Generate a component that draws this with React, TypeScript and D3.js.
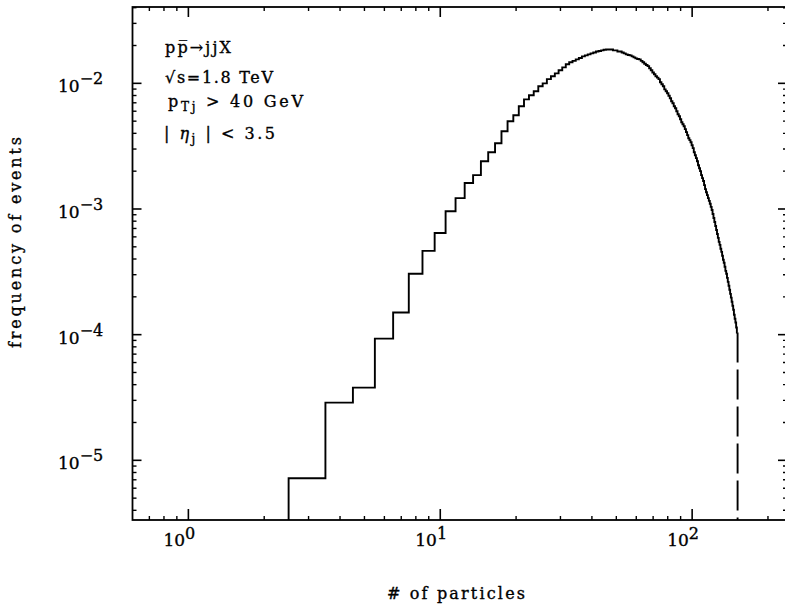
import React from "react";
import * as d3 from "d3";

// number of particles (bin centres, integer multiplicities)
const multiplicity: number[] = d3.range(3, 152);
// frequency of events for n = 3 ... 151
const frequency: number[] = [
  7.2e-6, 2.88e-5, 3.79e-5, 9.3e-5, 1.5e-4, 3.05e-4, 4.64e-4, 6.45e-4, 9.6e-4, 1.22e-3,
  1.61e-3, 1.86e-3, 2.4e-3, 2.83e-3, 3.34e-3, 4.16e-3, 4.99e-3, 5.57e-3, 6.57e-3, 7.46e-3,
  8.03e-3, 8.65e-3, 9.47e-3, 1.0e-2, 1.08e-2, 1.14e-2, 1.2e-2, 1.27e-2, 1.34e-2, 1.42e-2,
  1.47e-2, 1.51e-2, 1.55e-2, 1.59e-2, 1.64e-2, 1.67e-2, 1.7e-2, 1.73e-2, 1.76e-2, 1.79e-2,
  1.81e-2, 1.83e-2, 1.85e-2, 1.86e-2, 1.86e-2, 1.86e-2, 1.83e-2, 1.83e-2, 1.79e-2, 1.79e-2,
  1.76e-2, 1.73e-2, 1.7e-2, 1.68e-2, 1.67e-2, 1.64e-2, 1.61e-2, 1.58e-2, 1.56e-2, 1.55e-2,
  1.51e-2, 1.47e-2, 1.43e-2, 1.4e-2, 1.37e-2, 1.32e-2, 1.27e-2, 1.22e-2, 1.18e-2, 1.14e-2,
  1.11e-2, 1.08e-2, 1.02e-2, 9.83e-3, 9.47e-3, 8.96e-3, 8.65e-3, 8.34e-3, 7.96e-3, 7.6e-3,
  7.2e-3, 6.94e-3, 6.57e-3, 6.33e-3, 6.0e-3, 5.68e-3, 5.47e-3, 5.18e-3, 4.9e-3, 4.73e-3,
  4.56e-3, 4.32e-3, 4.09e-3, 3.87e-3, 3.66e-3, 3.53e-3, 3.4e-3, 3.22e-3, 3.05e-3, 2.83e-3,
  2.68e-3, 2.54e-3, 2.4e-3, 2.23e-3, 2.11e-3, 2.0e-3, 1.86e-3, 1.76e-3, 1.67e-3, 1.55e-3,
  1.44e-3, 1.36e-3, 1.29e-3, 1.22e-3, 1.16e-3, 1.1e-3, 1.04e-3, 9.82e-4, 9.12e-4, 8.49e-4,
  7.89e-4, 7.33e-4, 6.81e-4, 6.33e-4, 5.89e-4, 5.47e-4, 5.18e-4, 4.82e-4, 4.56e-4, 4.24e-4,
  3.94e-4, 3.73e-4, 3.47e-4, 3.22e-4, 3.05e-4, 2.83e-4, 2.63e-4, 2.45e-4, 2.28e-4, 2.11e-4,
  1.97e-4, 1.83e-4, 1.7e-4, 1.58e-4, 1.44e-4, 1.34e-4, 1.25e-4, 1.14e-4, 1.04e-4,
];

const xDomain: [number, number] = [0.6, 238];
const yDomain: [number, number] = [3.35e-6, 0.0405];
const xMajorTicks: number[] = [1, 10, 100];
const xTickExponents: string[] = ["0", "1", "2"];
const yMajorTicks: number[] = [1e-5, 1e-4, 1e-3, 1e-2];
const yTickExponents: string[] = ["\u22125", "\u22124", "\u22123", "\u22122"];
const xTitle = "# of particles";
const yTitle = "frequency of events";

const W = 785;
const H = 607;
const L = 132.5;
const R = 787;
const T = 7;
const B = 520;
const FONT = "'DejaVu Serif', serif";
const TXT = { fill: "#000", stroke: "#000", strokeWidth: 0.35 };

export default function App() {
  const x = d3.scaleLog().domain(xDomain).range([L, R]);
  const y = d3.scaleLog().domain(yDomain).range([B, T]);

  const xMinor: number[] = [];
  for (let d = -1; d <= 2; d++)
    for (let k = 2; k <= 9; k++) {
      const v = k * Math.pow(10, d);
      if (v > xDomain[0] * 1.001 && v < xDomain[1]) xMinor.push(v);
    }
  const yMinor: number[] = [];
  for (let d = -6; d <= -2; d++)
    for (let k = 2; k <= 9; k++) {
      const v = k * Math.pow(10, d);
      if (v > yDomain[0] && v < yDomain[1]) yMinor.push(v);
    }

  // histogram step path
  let p = `M${x(multiplicity[0] - 0.5)},${B}`;
  multiplicity.forEach((n, i) => {
    p += `V${y(frequency[i])}H${x(n + 0.5)}`;
  });
  const lastN = multiplicity[multiplicity.length - 1];
  const lastX = x(lastN + 0.5);
  const lastY = y(frequency[frequency.length - 1]);

  return (
    <svg
      width={W}
      height={H}
      style={{ position: "absolute", left: 0, top: 0, background: "#fff" }}
      fontFamily={FONT}
    >
      <rect x={0} y={0} width={W} height={H} fill="#fff" />
      {/* frame */}
      <rect x={L} y={T} width={R - L} height={B - T} fill="none" stroke="#000" strokeWidth={1.8} />
      {/* x ticks bottom & top */}
      {xMajorTicks.map((v) => (
        <g key={"xM" + v}>
          <line x1={x(v)} x2={x(v)} y1={B} y2={B - 11} stroke="#000" strokeWidth={1.6} />
          <line x1={x(v)} x2={x(v)} y1={T} y2={T + 10} stroke="#000" strokeWidth={1.6} />
        </g>
      ))}
      {xMinor.map((v) => (
        <g key={"xm" + v}>
          <line x1={x(v)} x2={x(v)} y1={B} y2={B - 4} stroke="#000" strokeWidth={1.4} />
          <line x1={x(v)} x2={x(v)} y1={T} y2={T + 4} stroke="#000" strokeWidth={1.4} />
        </g>
      ))}
      {/* y ticks left & right */}
      {yMajorTicks.map((v) => (
        <g key={"yM" + v}>
          <line x1={L} x2={L + 9} y1={y(v)} y2={y(v)} stroke="#000" strokeWidth={1.6} />
          <line x1={R} x2={R - 9} y1={y(v)} y2={y(v)} stroke="#000" strokeWidth={1.6} />
        </g>
      ))}
      {yMinor.map((v) => (
        <g key={"ym" + v}>
          <line x1={L} x2={L + 4} y1={y(v)} y2={y(v)} stroke="#000" strokeWidth={1.4} />
          <line x1={R} x2={R - 4} y1={y(v)} y2={y(v)} stroke="#000" strokeWidth={1.4} />
        </g>
      ))}
      {/* tick labels */}
      {xMajorTicks.map((v, i) => (
        <text key={"xl" + v} x={x(v) - 25} y={B + 26} fontSize={17} {...TXT}>
          10
          <tspan dy={-7} fontSize={16}>{xTickExponents[i]}</tspan>
        </text>
      ))}
      {yMajorTicks.map((v, i) => (
        <text key={"yl" + v} x={58} y={y(v) + 9} fontSize={17} {...TXT}>
          10
          <tspan dy={-8} fontSize={16}>{yTickExponents[i]}</tspan>
        </text>
      ))}
      {/* axis titles */}
      <text x={387} y={599} fontSize={16} {...TXT} textLength={138} lengthAdjust="spacing">
        {xTitle}
      </text>
      <text
        transform={`translate(21,348) rotate(-90)`}
        x={0}
        y={0}
        fontSize={16}
        {...TXT}
        textLength={211}
        lengthAdjust="spacing"
      >
        {yTitle}
      </text>
      {/* annotation */}
      <g fontSize={16} {...TXT}>
        <text x={165} y={53} textLength={66} lengthAdjust="spacing">
          p{"p\u0305"}{"\u2192"}jjX
        </text>
        <text x={165} y={83} textLength={108} lengthAdjust="spacing">
          {"\u221As=1.8 TeV"}
        </text>
        <text x={168} y={107} textLength={135} lengthAdjust="spacing">
          p<tspan dy={4} fontSize={12}>Tj</tspan>
          <tspan dy={-4}>{" > 40 GeV"}</tspan>
        </text>
        <text x={164} y={139} textLength={111} lengthAdjust="spacing">
          {"| "}
          <tspan fontStyle="italic">{"\u03B7"}</tspan>
          <tspan dy={4} fontSize={12}>j</tspan>
          <tspan dy={-4}>{" | < 3.5"}</tspan>
        </text>
      </g>
      {/* histogram */}
      <path d={p} fill="none" stroke="#000" strokeWidth={1.9} strokeLinejoin="miter" />
      <line
        x1={lastX}
        x2={lastX}
        y1={lastY}
        y2={B}
        stroke="#000"
        strokeWidth={1.9}
        strokeDasharray="30,7"
      />
    </svg>
  );
}
